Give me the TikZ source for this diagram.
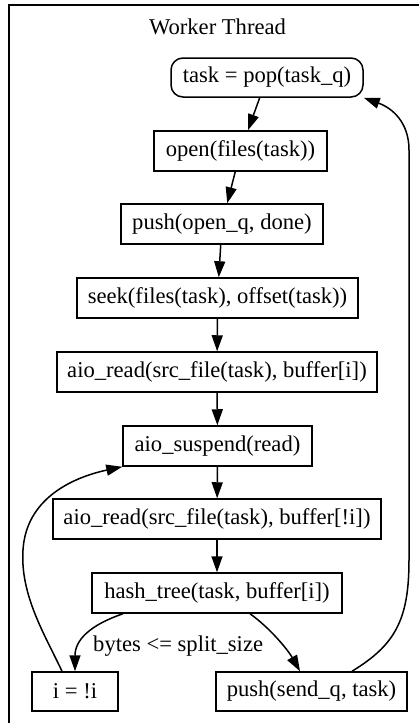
\documentclass[tikz,border=0pt]{standalone}
\usepackage{fontspec}
\setmainfont{Liberation Serif}
\usetikzlibrary{arrows.meta}
\begin{document}
\begin{tikzpicture}[x=1pt,y=-1pt,
  box/.style={draw,line width=1.5pt,inner sep=0pt,minimum height=40pt,font=\fontsize{22.6}{26}\selectfont},
  edge/.style={line width=1.5pt,-{Triangle[length=16pt,width=11pt]}},
  lbl/.style={font=\fontsize{22.6}{26}\selectfont,inner sep=0pt}]
\useasboundingbox (0,0) rectangle (419,723);
\clip (0,0) rectangle (419,723);
\draw[line width=1.5pt] (9,5) rectangle (460,760);
\node[lbl] (title) at (217.5,27) {Worker Thread};
\node[box,rounded corners=12pt,minimum width=192pt,minimum height=39pt] (pop) at (267,77.5) {task = pop(task\_q)};
\node[box,minimum width=173pt] (open) at (240.5,151) {open(files(task))};
\node[box,minimum width=202pt] (pushopen) at (222,224) {push(open\_q, done)};
\node[box,minimum width=281pt] (seek) at (217.5,298) {seek(files(task), offset(task))};
\node[box,minimum width=320pt] (read1) at (217,372) {aio\_read(src\_file(task), buffer[i])};
\node[box,minimum width=189pt] (susp) at (217.5,446) {aio\_suspend(read)};
\node[box,minimum width=328pt] (read2) at (217,519) {aio\_read(src\_file(task), buffer[!i])};
\node[box,minimum width=250pt] (hash) at (217,593) {hash\_tree(task, buffer[i])};
\node[box,minimum width=86pt,minimum height=39pt] (flip) at (75,691.5) {i = !i};
\node[box,minimum width=191pt,minimum height=39pt] (send) at (311.5,691.5) {push(send\_q, task)};
\draw[edge] (pop) -- (open);
\draw[edge] (open) -- (pushopen);
\draw[edge] (pushopen) -- (seek);
\draw[edge] (seek) -- (read1);
\draw[edge] (read1) -- (susp);
\draw[edge] (susp) -- (read2);
\draw[edge] (read2) -- (hash);
\draw[edge] ([xshift=-94pt]hash.south) .. controls (90,625) and (75,640) .. (flip.north);
\node[lbl,anchor=west] (cond) at (93,646) {bytes <= split\_size};
\draw[edge] ([xshift=33pt]hash.south) .. controls (270,628) and (288,650) .. ([xshift=-11.5pt]send.north);
\draw[edge] ([xshift=-13pt]flip.north) .. controls (45,635) and (20,595) .. (23,550)
  .. controls (26,500) and (70,478) .. (susp.south west);
\draw[edge] ([xshift=40.5pt]send.north) .. controls (395,645) and (409,620) .. (409,560)
  -- (409,150) .. controls (409,122) and (392,108) .. (pop.south east);
\end{tikzpicture}
\end{document}
